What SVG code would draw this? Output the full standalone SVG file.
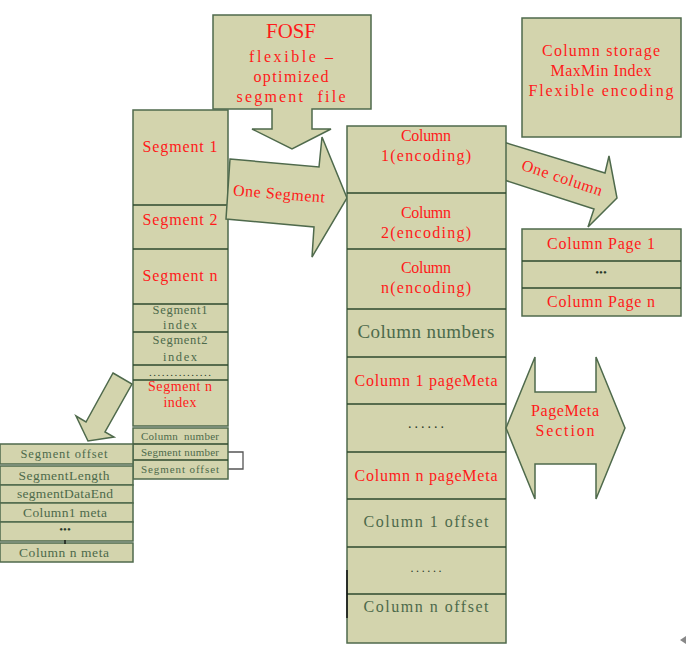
<svg xmlns="http://www.w3.org/2000/svg" width="686" height="656" viewBox="0 0 686 656">
<style>
.bx{fill:#d3d4ad;stroke:#4f6a4c;stroke-width:1.5}
.ln{stroke:#2e4a2e;stroke-width:1.3;fill:none}
text{font-family:"Liberation Serif","DejaVu Serif",serif;text-anchor:middle}
.r{fill:#ff1a1a;font-size:16px}
.g{fill:#4d6a4b}
.d{fill:#2a3a2a}
</style>
<rect width="686" height="656" fill="#fff"/>

<g id="connectors">
  <polygon id="arrow-one-column" class="bx" points="500,141 605,173 609,156 617,198 588,227 594,209 495,177"/>
  <polygon id="arrow-down-left" class="bx" points="113,373 132,384 105,432 114,437 88,441 76,416 86,422"/>
  <polyline points="228,452 243,452 243,469 228,469" fill="none" stroke="#555" stroke-width="1.3"/>
</g>

<g id="fosf">
  <polygon class="bx" points="213,15 371,15 371,109 312,109 312,129 331,129 292,149 252,129 272,129 272,109 213,109"/>
  <text x="291" y="38" style="font-size:22px;fill:#ff1a1a" textLength="50" lengthAdjust="spacingAndGlyphs">FOSF</text>
  <text class="r" x="291" y="62" textLength="84">flexible –</text>
  <text class="r" x="291" y="82" textLength="75">optimized</text>
  <text class="r" x="291" y="102" xml:space="preserve" textLength="109">segment  file</text>
</g>

<g id="segments">
  <rect class="bx" x="133" y="110" width="95" height="316"/>
  <line class="ln" x1="133" y1="205" x2="228" y2="205"/>
  <line class="ln" x1="133" y1="249" x2="228" y2="249"/>
  <line class="ln" x1="133" y1="304" x2="228" y2="304"/>
  <line class="ln" x1="133" y1="332" x2="228" y2="332"/>
  <line class="ln" x1="133" y1="365" x2="228" y2="365"/>
  <line class="ln" x1="133" y1="380" x2="228" y2="380"/>
  <text class="r" x="180" y="152" textLength="75">Segment 1</text>
  <text class="r" x="180" y="225" textLength="75">Segment 2</text>
  <text class="r" x="180" y="281" textLength="75">Segment n</text>
  <text class="g" x="180" y="314" style="font-size:12.5px" textLength="55">Segment1</text>
  <text class="g" x="180" y="329" style="font-size:12.5px" textLength="34">index</text>
  <text class="g" x="180" y="344" style="font-size:12.5px" textLength="55">Segment2</text>
  <text class="g" x="180" y="361" style="font-size:12.5px" textLength="34">index</text>
  <text class="d" x="180" y="376" style="font-size:11px" textLength="62">...............</text>
  <text x="180" y="391" style="font-size:14px;fill:#ff1a1a" textLength="64">Segment n</text>
  <text x="180" y="407" style="font-size:14px;fill:#ff1a1a" textLength="33">index</text>
</g>

<g id="segment-footer">
  <rect class="bx" x="133" y="428" width="95" height="51"/>
  <line class="ln" x1="133" y1="444" x2="228" y2="444"/>
  <line class="ln" x1="133" y1="460" x2="228" y2="460"/>
  <text class="g" x="180" y="440" style="font-size:11px" xml:space="preserve" textLength="78">Column  number</text>
  <text class="g" x="180" y="456" style="font-size:11px" textLength="78">Segment number</text>
  <text class="g" x="180" y="473" style="font-size:11px" textLength="78">Segment offset</text>
</g>

<g id="segment-meta">
  <rect class="bx" x="0" y="444" width="133" height="20"/>
  <rect class="bx" x="0" y="466" width="133" height="19"/>
  <rect class="bx" x="0" y="485" width="133" height="18"/>
  <rect class="bx" x="0" y="503" width="133" height="19"/>
  <rect class="bx" x="0" y="522" width="133" height="19"/>
  <rect class="bx" x="0" y="543" width="133" height="19"/>
  <line x1="65" y1="540" x2="65" y2="544" stroke="#000" stroke-width="1.2"/>
  <text class="g" x="64" y="458" style="font-size:12.5px" textLength="87">Segment offset</text>
  <text class="g" x="64" y="480" style="font-size:13.5px" textLength="91">SegmentLength</text>
  <text class="g" x="65" y="498" style="font-size:13.5px" textLength="96">segmentDataEnd</text>
  <text class="g" x="65" y="517" style="font-size:13.5px" textLength="84">Column1 meta</text>
  <text class="d" x="65" y="533" style="font-size:11px">•••</text>
  <text class="g" x="64" y="557" style="font-size:13.5px" textLength="90">Column n meta</text>
</g>

<g id="arrow-one-segment">
  <polygon class="bx" points="230,159 319,167 322,137 347,198 312,257 314,227 226,219"/>
  <text class="r" x="279" y="199" transform="rotate(4.5 279 194)" textLength="92">One Segment</text>
</g>

<g id="columns">
  <rect class="bx" x="347" y="126" width="159" height="517"/>
  <line class="ln" x1="347" y1="193" x2="506" y2="193"/>
  <line class="ln" x1="347" y1="249" x2="506" y2="249"/>
  <line class="ln" x1="347" y1="309" x2="506" y2="309"/>
  <line class="ln" x1="347" y1="357" x2="506" y2="357"/>
  <line class="ln" x1="347" y1="404" x2="506" y2="404"/>
  <line class="ln" x1="347" y1="452" x2="506" y2="452"/>
  <line class="ln" x1="347" y1="499" x2="506" y2="499"/>
  <line class="ln" x1="347" y1="547" x2="506" y2="547"/>
  <line class="ln" x1="347" y1="594" x2="506" y2="594"/>
  <line x1="347" y1="570" x2="347" y2="618" stroke="#111" stroke-width="1.5"/>
  <text class="r" x="426" y="141" textLength="50">Column</text>
  <text class="r" x="426" y="161" textLength="90">1(encoding)</text>
  <text class="r" x="426" y="218" textLength="50">Column</text>
  <text class="r" x="426" y="238" textLength="90">2(encoding)</text>
  <text class="r" x="426" y="273" textLength="50">Column</text>
  <text class="r" x="426" y="293" textLength="90">n(encoding)</text>
  <text class="g" x="426" y="338" style="font-size:19px" textLength="137">Column numbers</text>
  <text class="r" x="426" y="386" textLength="143">Column 1 pageMeta</text>
  <text class="d" x="426" y="428" style="font-size:14px" textLength="36">......</text>
  <text class="r" x="426" y="481" textLength="143">Column n pageMeta</text>
  <text class="g" x="426" y="527" style="font-size:16px" textLength="125">Column 1 offset</text>
  <text class="d" x="426" y="572" style="font-size:12px" textLength="31">......</text>
  <text class="g" x="426" y="612" style="font-size:16px" textLength="125">Column n offset</text>
</g>

<g id="one-column-label">
  <text class="r" x="562" y="183" transform="rotate(18.5 562 178)" textLength="84">One column</text>
</g>

<g id="column-storage">
  <rect class="bx" x="522" y="18" width="159" height="119"/>
  <text class="r" x="601" y="56" textLength="118">Column storage</text>
  <text class="r" x="601" y="76" textLength="101">MaxMin Index</text>
  <text class="r" x="601" y="96" textLength="145">Flexible encoding</text>
</g>

<g id="column-pages">
  <rect class="bx" x="522" y="229" width="159" height="87"/>
  <line class="ln" x1="522" y1="261" x2="681" y2="261"/>
  <line class="ln" x1="522" y1="288" x2="681" y2="288"/>
  <text class="r" x="601" y="249" textLength="108">Column Page 1</text>
  <text class="d" x="601" y="276" style="font-size:11px">•••</text>
  <text class="r" x="601" y="307" textLength="108">Column Page n</text>
</g>

<g id="pagemeta-section">
  <polygon class="bx" points="506,428 535,357 535,392 596,392 596,357 625,428 596,499 596,464 535,464 535,499"/>
  <text class="r" x="565" y="416" textLength="68">PageMeta</text>
  <text class="r" x="565" y="436" textLength="59">Section</text>
</g>

<polygon points="680,640 686,636 686,644" fill="#888"/>
</svg>
